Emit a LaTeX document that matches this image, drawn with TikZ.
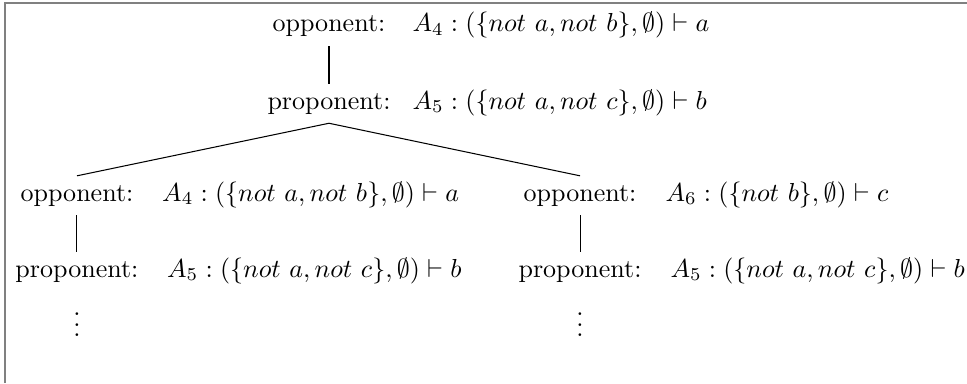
\documentclass[tikz,border=0pt]{standalone}
\begin{document}
\begin{tikzpicture}[
    role/.style={anchor=base},
    claim/.style={anchor=base west, inner sep=0pt},
    frame/.style={draw=gray, line width=0.8pt}]
    \useasboundingbox (0,0) rectangle (13.065,-5.175);
    % Rahmen (links und oben)
    \draw[frame] (0.068,-5.175) -- (0.068,-0.04) -- (13.065,-0.04);

    % Wurzel
    \node[role] (opp1) at (4.445,-0.432) {opponent:};
    \node[claim] (arg1) at (5.567,-0.432) {$A_4 : (\{not\ a, not\ b\}, \emptyset) \vdash a$};
    \node[role] (pro1) at (4.445,-1.473) {proponent:};
    \node[claim] (arg2) at (5.567,-1.473) {$A_5 : (\{not\ a, not\ c\}, \emptyset) \vdash b$};

    % linker Zweig
    \node[role] (opp2) at (1.040,-2.716) {opponent:};
    \node[claim] (arg3) at (2.185,-2.716) {$A_4 : (\{not\ a, not\ b\}, \emptyset) \vdash a$};
    \node[role] (pro2) at (1.040,-3.743) {proponent:};
    \node[claim] (arg4) at (2.252,-3.743) {$A_5 : (\{not\ a, not\ c\}, \emptyset) \vdash b$};
    \node[role] (dots2) at (1.040,-4.55) {$\vdots$};

    % rechter Zweig
    \node[role] (opp3) at (7.837,-2.716) {opponent:};
    \node[claim] (arg5) at (8.985,-2.716) {$A_6 : (\{not\ b\}, \emptyset) \vdash c$};
    \node[role] (pro3) at (7.837,-3.743) {proponent:};
    \node[claim] (arg6) at (9.052,-3.743) {$A_5 : (\{not\ a, not\ c\}, \emptyset) \vdash b$};
    \node[role] (dots3) at (7.837,-4.55) {$\vdots$};

    % Kanten
    \draw (opp1.south) -- (pro1.north);
    \draw (pro1.south) -- (opp2.north);
    \draw (pro1.south) -- (opp3.north);
    \draw (opp2.south) -- (pro2.north);
    \draw (opp3.south) -- (pro3.north);
\end{tikzpicture}
\end{document}
